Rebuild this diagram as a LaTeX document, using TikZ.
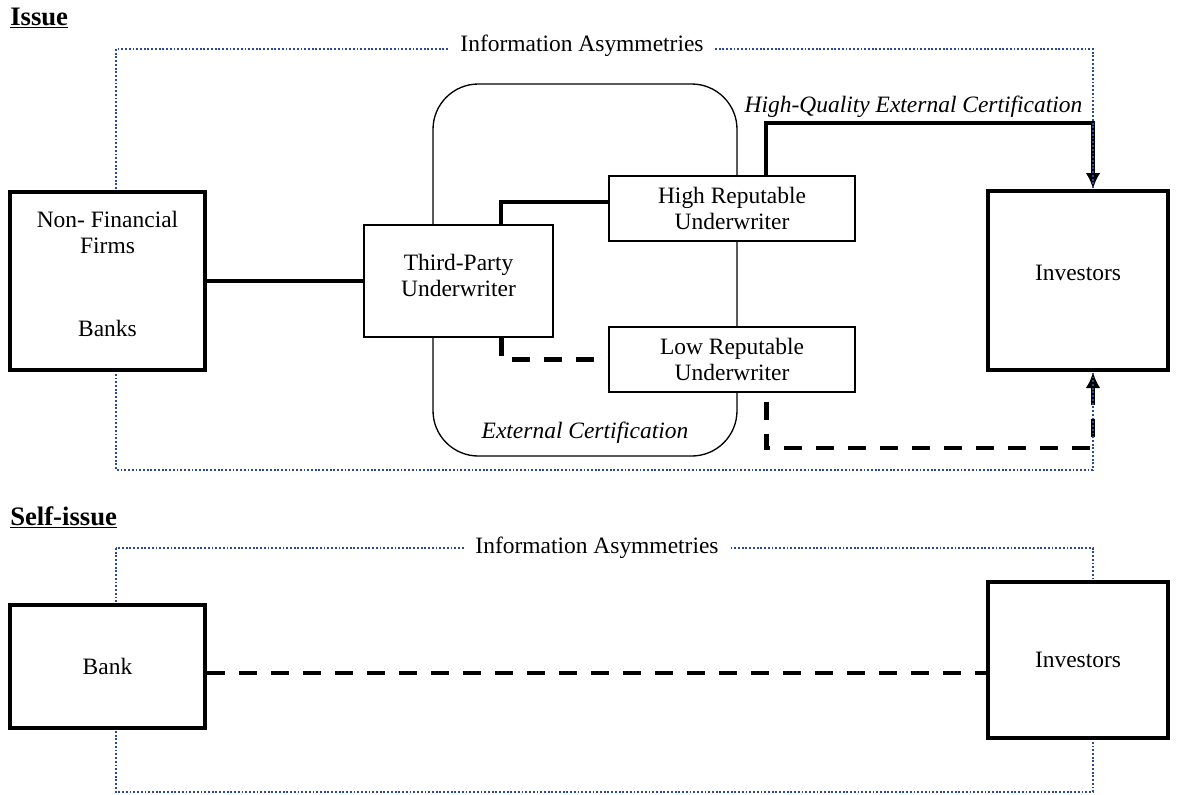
\documentclass[tikz,border=0pt]{standalone}
\usepackage{fontspec}
\setmainfont{Liberation Serif}
\usetikzlibrary{calc,positioning,arrows.meta,backgrounds}
\definecolor{asymblue}{RGB}{40,75,145}
\tikzset{
	asym/.style={
		draw=asymblue,
		line width=1.5pt,
		dash pattern=on 1.4pt off 1.4pt
	},
	link/.style={
		line width=3pt
	},
	dlink/.style={
		line width=3.2pt,
		dash pattern=on 13.5pt off 10.5pt
	}
}

\begin{document}
\begin{tikzpicture}[
					x=0.75pt,y=-0.75pt,
					font=\fontsize{17.6}{19.5}\selectfont,
					party/.style={
						rectangle,
						draw=black, line width=3pt,
						fill=white,
						align=center,
						inner sep=0pt
					},
					underwriter/.style={
						rectangle,
						draw=black, line width=0.8pt,
						fill=white,
						align=center,
						inner sep=0pt
					},
					title/.style={
						anchor=base west,
						inner sep=0pt,
						font=\fontsize{20}{24}\selectfont\bfseries
					},
					>={Latex[length=12pt,width=11pt]}]

					\useasboundingbox (0,0) rectangle (1180,794);

					%%% Issue
					%% Titles
					\node[title] (issuetitle) at (10,25) {\underline{Issue}};

					%% Parties
					\node at (107.5,281) [party,minimum width=146.25pt,minimum height=133.5pt] (firms) {};
					\node[align=center] (firmstext) at (107.5,232) {Non- Financial\\Firms};
					\node (bankstext) at (107.5,328) {Banks};
					\node at (1078,280.5) [party,minimum width=135pt,minimum height=134.25pt] (investors) {};
					\node (investorstext) at (1078,273) {Investors};

					%% Underwriters
					\node at (458.5,281) [underwriter,minimum width=141.75pt,minimum height=84pt] (third) {};
					\node[align=center] (thirdtext) at (458.5,275) {Third-Party\\Underwriter};
					\node at (732,208.5) [underwriter,minimum width=184.5pt,minimum height=48.75pt] (high) {High Reputable\\Underwriter};
					\node at (732,359.5) [underwriter,minimum width=184.5pt,minimum height=48.75pt] (low) {Low Reputable\\Underwriter};

					\coordinate (hqcorner) at (1093,123);
					\coordinate (lqcorner) at (1093,448);

					\begin{scope}[on background layer]
						% certification frame
						\draw[rounded corners=34pt, line width=1pt] (433,84) rectangle (737,456);

						%%% Connections
						\draw[link] (firms) -- (third);
						\draw[link] ($(third.north west)+(138,0)$) |- ($(high.west)+(0,-6.5)$);
						\draw[dlink] ($(third.south west)+(138,0)$) |- (low.west);
						\draw[link,->] ($(high.north west)+(158,0)$) |- (hqcorner) -- (hqcorner |- investors.north);
						\draw[dlink,dash phase=17.25pt,->] ($(low.south west)+(158,0)$) |- (lqcorner) -- (lqcorner |- investors.south);

						% information asymmetries frame
						\draw[asym] (116,49) rectangle (1093,470);
					\end{scope}

					\node[fill=white, inner xsep=8pt] (asymissue) at (582,46) {Information Asymmetries};
					\node[font=\fontsize{17.6}{19.5}\selectfont\itshape, anchor=base east] (hqlabel) at (1087,112) {High-Quality External Certification};
					\node[font=\fontsize{17.6}{19.5}\selectfont\itshape] (extcert) at (585,433) {External Certification};

					%%% Self-issue
					\node[title] (selftitle) at (10,525) {\underline{Self-issue}};

					\node at (107.5,666.5) [party,minimum width=146.25pt,minimum height=92.25pt] (bank) {Bank};
					\node at (1078,660) [party,minimum width=135pt,minimum height=117pt] (investorsb) {Investors};

					\coordinate (banklink) at ($(bank.east)+(0,6.5)$);
					\begin{scope}[on background layer]
						\draw[dlink] (banklink) -- (banklink -| investorsb.west);
						\draw[asym] (116,548) rectangle (1093,792);
					\end{scope}

					\node[fill=white, inner xsep=8pt] (asymself) at (597,548) {Information Asymmetries};
				\end{tikzpicture}
\end{document}
